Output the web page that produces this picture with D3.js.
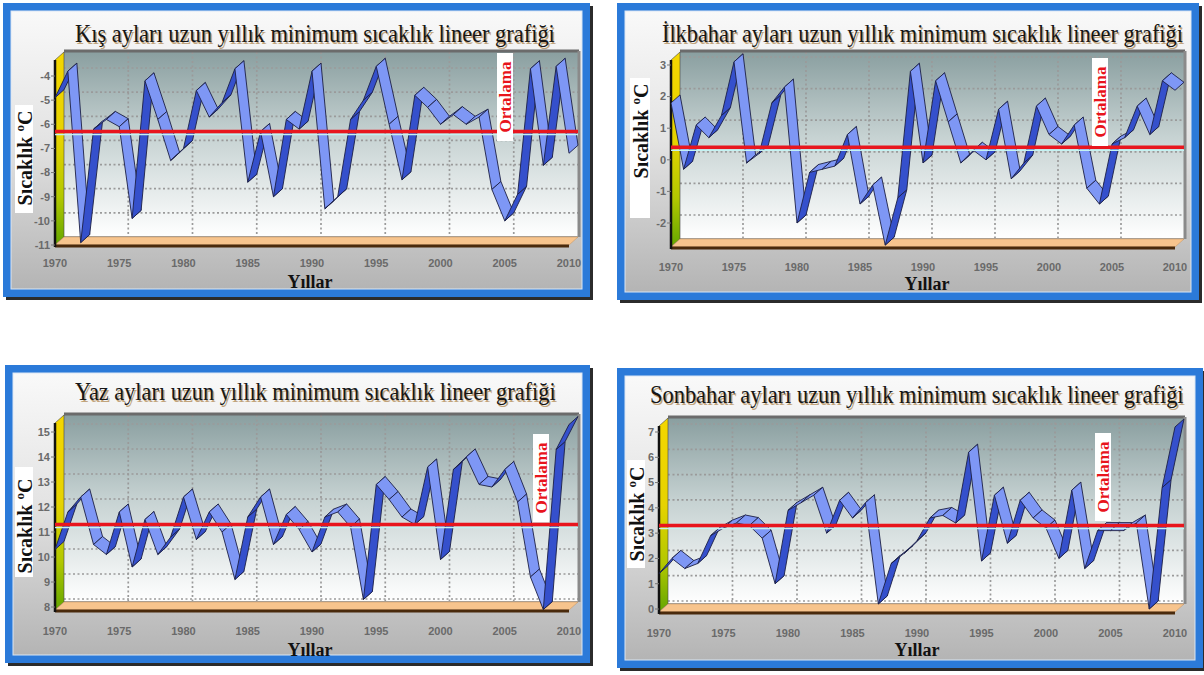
<!DOCTYPE html>
<html><head><meta charset="utf-8">
<script src="https://cdn.jsdelivr.net/npm/d3@7"></script>
<style>body{margin:0;background:#fff}svg{display:block}</style>
</head><body>
<svg id="c" width="1204" height="675"></svg>
<script>
// ---------- DATA ----------
const years = [1970,1971,1972,1973,1974,1975,1976,1977,1978,1979,
               1980,1981,1982,1983,1984,1985,1986,1987,1988,1989,
               1990,1991,1992,1993,1994,1995,1996,1997,1998,1999,
               2000,2001,2002,2003,2004,2005,2006,2007,2008,2009,2010];
const xTickYears = [1970,1975,1980,1985,1990,1995,2000,2005,2010];

const kisValues = [-4.9,-3.8,-10.9,-6.2,-5.8,-6.1,-9.9,-4.2,-5.8,-7.5,
                   -7.0,-4.6,-5.7,-5.1,-3.7,-8.4,-6.3,-9.0,-5.8,-6.2,
                   -3.8,-9.5,-9.0,-5.8,-5.0,-3.6,-6.0,-8.3,-4.8,-5.3,
                   -6.0,-5.6,-6.0,-5.7,-8.7,-10.0,-8.9,-3.7,-7.7,-3.6,-7.2];
const ilkbaharValues = [1.8,-0.3,1.1,0.7,1.4,3.1,-0.1,0.2,1.8,2.3,
                        -2.0,-0.4,-0.3,-0.2,0.8,-1.4,-0.8,-2.7,-1.2,2.8,
                        -0.1,2.5,1.2,-0.1,0.3,0.0,1.6,-0.6,-0.1,1.7,
                        0.8,0.5,1.1,-0.9,-1.4,0.5,0.7,1.7,0.8,2.5,2.2];
const yazValues = [10.3,11.8,12.4,10.5,10.1,11.8,9.6,11.5,10.1,10.8,
                   12.4,10.7,11.8,11.0,9.1,11.6,12.4,10.5,11.7,11.1,
                   10.2,11.6,11.8,11.2,8.3,12.9,12.3,11.6,11.3,13.6,
                   9.9,13.5,14.0,12.9,12.8,13.5,12.2,9.2,7.9,14.3,15.3];
const sonbaharValues = [1.4,2.0,1.6,1.8,2.9,3.2,3.4,3.3,2.8,1.0,
                        3.9,4.2,4.5,3.0,4.3,3.6,4.2,0.2,1.8,2.2,
                        2.7,3.6,3.7,3.4,6.2,1.9,4.5,2.6,4.3,3.6,
                        3.2,2.0,4.7,1.6,3.1,3.1,3.1,3.4,0.0,4.8,7.2];
const meanValues = [-6.3, 0.4, 11.3, 3.3];

const kisTicks = [-11,-10,-9,-8,-7,-6,-5,-4];
const ilkbaharTicks = [-2,-1,0,1,2,3];
const yazTicks = [8,9,10,11,12,13,14,15];
const sonbaharTicks = [0,1,2,3,4,5,6,7];

const titles = [
  "Kış ayları uzun yıllık minimum sıcaklık lineer grafiği",
  "İlkbahar ayları uzun yıllık minimum sıcaklık lineer grafiği",
  "Yaz ayları uzun yıllık minimum sıcaklık lineer grafiği",
  "Sonbahar ayları uzun yıllık minimum sıcaklık lineer grafiği"
];
const yAxisTitle = "Sıcaklık ";
const yAxisUnitSup = "o";
const yAxisUnit = "C";
const xAxisTitle = "Yıllar";
const meanLabel = "Ortalama";

// ---------- LAYOUT ----------
const panels = [
  {title:titles[0], values:kisValues, ticks:kisTicks, mean:meanValues[0],
   frame:[3,3,587,294], x0:55, x1:569, yDom:[-11,-4], yRng:[245,76], top:60, bot:245,
   titleX:[75,555], titleY:42, ylab:[25,158], ybox:[15,105,18,108], xlab:[310,288], ort:[505,97], xlabY:267},
  {title:titles[1], values:ilkbaharValues, ticks:ilkbaharTicks, mean:meanValues[1],
   frame:[617,3,582,297], x0:671, x1:1175, yDom:[-2,3], yRng:[223,65], top:60, bot:247,
   titleX:[662,1183], titleY:42, ylab:[641,131], ybox:[630,78,20,140], xlab:[927,290], ort:[1100,102], xlabY:271},
  {title:titles[2], values:yazValues, ticks:yazTicks, mean:meanValues[2],
   frame:[5,365,585,298], x0:55, x1:569, yDom:[8,15], yRng:[607,432], top:423, bot:610,
   titleX:[75,556], titleY:400, ylab:[25,526], ybox:[15,467,18,110], xlab:[310,656], ort:[541,478], xlabY:635},
  {title:titles[3], values:sonbaharValues, ticks:sonbaharTicks, mean:meanValues[3],
   frame:[617,368,586,300], x0:659, x1:1175, yDom:[0,7], yRng:[609,432], top:426, bot:612,
   titleX:[650,1184], titleY:403, ylab:[637,514], ybox:[627,460,18,108], xlab:[917,656], ort:[1103,477], xlabY:637}
];

const D = {x: 9, y: -8};
const svg = d3.select('#c');
const defs = svg.append('defs');
function lg(id, stops){
  const g = defs.append('linearGradient').attr('id', id).attr('x1',0).attr('y1',0).attr('x2',0).attr('y2',1);
  stops.forEach(s => g.append('stop').attr('offset', s[0]).attr('stop-color', s[1]));
}
lg('panelBg', [[0,'#f9f9f9'],[0.45,'#e4e4e4'],[1,'#b4b4b4']]);
lg('wallBg', [[0,'#8a9fa0'],[0.45,'#c6d2d2'],[1,'#ffffff']]);
lg('sideBg', [[0,'#f4d600'],[0.45,'#e6d300'],[0.75,'#b2c800'],[1,'#64a600']]);

const serif = "'Liberation Serif','Times New Roman',serif";
const sans = "'Liberation Sans',Arial,sans-serif";

function fitText(g, str, x0, x1, yb, fill, size) {
  const t = g.append('text').attr('x', 0).attr('y', 0)
    .attr('font-family', serif).attr('font-size', size).attr('fill', fill).text(str);
  const w = t.node().getComputedTextLength();
  const k = (x1 - x0) / w;
  t.attr('transform', `translate(${x0},${yb}) scale(${k},1)`);
  return t;
}

panels.forEach(p => {
  const g = svg.append('g');
  const [fx, fy, fw, fh] = p.frame;
  // frame
  g.append('rect').attr('x', fx+3).attr('y', fy+3).attr('width', fw).attr('height', fh).attr('fill', '#2b2b2b');
  g.append('rect').attr('x', fx).attr('y', fy).attr('width', fw).attr('height', fh).attr('fill', '#2b7ad9');
  g.append('rect').attr('x', fx+8).attr('y', fy+8).attr('width', fw-16).attr('height', fh-16)
    .attr('fill', 'url(#panelBg)').attr('stroke', '#d9e6f5').attr('stroke-width', 1);

  const x = d3.scaleLinear().domain([years[0], years[years.length-1]]).range([p.x0, p.x1]);
  const y = d3.scaleLinear().domain(p.yDom).range(p.yRng);
  const wx0 = p.x0 + D.x, wx1 = p.x1 + D.x, wy0 = p.top + D.y, wy1 = p.bot + D.y;

  // back wall
  g.append('rect').attr('x', wx0).attr('y', wy0).attr('width', wx1-wx0).attr('height', wy1-wy0).attr('fill', 'url(#wallBg)');
  // grid
  g.append('g').selectAll('line').data(p.ticks).join('line')
    .attr('x1', wx0).attr('x2', wx1).attr('y1', t => y(t)+D.y).attr('y2', t => y(t)+D.y)
    .attr('stroke', '#9a9a9a').attr('stroke-width', 1.7).attr('stroke-dasharray', '2,2.5');
  g.append('g').selectAll('line').data(xTickYears.slice(1, -1)).join('line')
    .attr('x1', d => x(d)+D.x).attr('x2', d => x(d)+D.x).attr('y1', wy0).attr('y2', wy1)
    .attr('stroke', '#9a9a9a').attr('stroke-width', 1.7).attr('stroke-dasharray', '2,2.5');
  // wall borders
  g.append('line').attr('x1', wx0).attr('x2', wx1+1).attr('y1', wy0-1).attr('y2', wy0-1).attr('stroke', '#6b6b6b').attr('stroke-width', 3);
  g.append('line').attr('x1', wx1+1).attr('x2', wx1+1).attr('y1', wy0-1).attr('y2', wy1).attr('stroke', '#8a8a8a').attr('stroke-width', 3);
  g.append('line').attr('x1', wx0).attr('x2', wx1).attr('y1', wy1).attr('y2', wy1).attr('stroke', '#a0a0a0').attr('stroke-width', 2);
  // left wall
  g.append('path').attr('d', `M${p.x0},${p.top}L${wx0},${wy0}L${wx0},${wy1}L${p.x0},${p.bot}Z`)
    .attr('fill', 'url(#sideBg)').attr('stroke', '#444').attr('stroke-width', 0.6);
  // floor
  g.append('path').attr('d', `M${p.x0},${p.bot}L${wx0},${wy1}L${wx1},${wy1}L${p.x1},${p.bot}Z`)
    .attr('fill', '#f7c48d').attr('stroke', '#c99a6a').attr('stroke-width', 0.6);
  g.append('line').attr('x1', p.x0).attr('x2', p.x1).attr('y1', p.bot+1).attr('y2', p.bot+1)
    .attr('stroke', '#4a2a0c').attr('stroke-width', 3);
  // axis
  g.append('line').attr('x1', p.x0).attr('x2', p.x0).attr('y1', p.top).attr('y2', p.bot+2)
    .attr('stroke', '#111').attr('stroke-width', 2.5);

  // ribbon
  const pts = years.map((yr, i) => [x(yr), y(p.values[i])]);
  const rib = g.append('g');
  for (let i = 0; i < pts.length - 1; i++) {
    const a = pts[i], b = pts[i+1];
    const sx = b[0]-a[0], sy = b[1]-a[1];
    const cross = sx*D.y - sy*D.x;
    rib.append('path')
      .attr('d', `M${a[0]},${a[1]}L${b[0]},${b[1]}L${b[0]+D.x},${b[1]+D.y}L${a[0]+D.x},${a[1]+D.y}Z`)
      .attr('fill', cross > 0 ? '#3550cc' : '#7e97f5')
      .attr('stroke', '#1c1f45').attr('stroke-width', 0.9).attr('stroke-linejoin', 'round');
  }

  // mean line
  const my = y(p.mean);
  g.append('line').attr('x1', p.x0).attr('x2', wx1).attr('y1', my+3).attr('y2', my+3)
    .attr('stroke', '#c4f2f2').attr('stroke-width', 1.5);
  g.append('line').attr('x1', p.x0).attr('x2', wx1).attr('y1', my).attr('y2', my)
    .attr('stroke', '#e8161e').attr('stroke-width', 3.5);

  // y ticks
  const yt = g.append('g');
  p.ticks.forEach(t => {
    yt.append('line').attr('x1', p.x0-4).attr('x2', p.x0).attr('y1', y(t)).attr('y2', y(t)).attr('stroke', '#777').attr('stroke-width', 1);
    yt.append('text').attr('x', p.x0-5).attr('y', y(t)).attr('dy', '0.35em').attr('text-anchor', 'end')
      .attr('font-family', sans).attr('font-size', 11).attr('font-weight', 'bold').attr('fill', '#6a6a6a').text(String(t));
  });
  // x ticks
  g.append('g').selectAll('text').data(xTickYears).join('text')
    .attr('x', d => x(d)).attr('y', p.xlabY).attr('text-anchor', 'middle')
    .attr('font-family', sans).attr('font-size', 11).attr('font-weight', 'bold').attr('fill', '#6a6a6a').text(d => d);

  // title (horizontally condensed like the original)
  const [tx0, tx1] = p.titleX;
  fitText(g, p.title, tx0+1.5, tx1+1.5, p.titleY+1.5, '#b08a55', 26).attr('opacity', 0.75);
  fitText(g, p.title, tx0, tx1, p.titleY, '#161616', 26);

  // y axis title
  const [bx, by, bw, bh] = p.ybox;
  g.append('rect').attr('x', bx).attr('y', by).attr('width', bw).attr('height', bh).attr('fill', '#fff');
  const yl = g.append('text').attr('transform', `translate(${p.ylab[0]+7},${p.ylab[1]}) rotate(-90)`)
    .attr('text-anchor', 'middle').attr('font-family', serif).attr('font-weight', 'bold')
    .attr('font-size', 20).attr('fill', '#111');
  yl.append('tspan').text(yAxisTitle);
  yl.append('tspan').attr('font-size', 13).attr('dy', -8).text(yAxisUnitSup);
  yl.append('tspan').attr('dy', 8).text(yAxisUnit);

  // x axis title
  g.append('text').attr('x', p.xlab[0]).attr('y', p.xlab[1]).attr('text-anchor', 'middle')
    .attr('font-family', serif).attr('font-weight', 'bold').attr('font-size', 18).attr('fill', '#111').text(xAxisTitle);

  // Ortalama label
  const [ox, oy] = p.ort;
  g.append('rect').attr('x', ox-8).attr('y', oy-44).attr('width', 16).attr('height', 88).attr('fill', '#fff');
  g.append('text').attr('transform', `translate(${ox+6},${oy}) rotate(-90)`).attr('text-anchor', 'middle')
    .attr('font-family', serif).attr('font-weight', 'bold').attr('font-size', 17).attr('fill', '#e8141c').text(meanLabel);
});
</script>
</body></html>
